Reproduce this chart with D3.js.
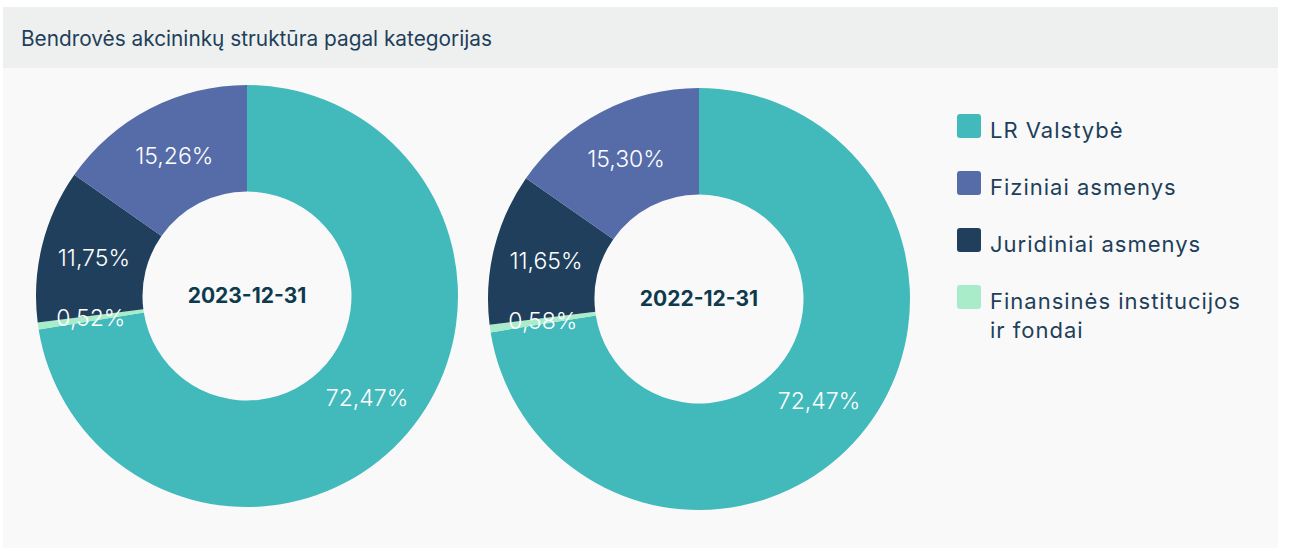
<!DOCTYPE html>
<html lang="lt">
  <head>
    <meta charset="utf-8" />
    <title>Bendrovės akcininkų struktūra</title>
    <script src="https://d3js.org/d3.v7.min.js"></script>
    <style type="text/css">
      body { margin: 0; background: #fff; font-family: Inter, "Noto Sans", sans-serif; }
    </style>
  </head>
  <body>
    <script type="text/javascript">
      // data
      const categories = ['LR Valstybė', 'Finansinės institucijos ir fondai', 'Juridiniai asmenys', 'Fiziniai asmenys'];
      const values2023 = [72.47, 0.52, 11.75, 15.26];
      const values2022 = [72.47, 0.58, 11.65, 15.30];
      const dates = ['2023-12-31', '2022-12-31'];
      const legendOrder = ['LR Valstybė', 'Fiziniai asmenys', 'Juridiniai asmenys', 'Finansinės institucijos ir fondai'];
      const legendLines = [['LR Valstybė'], ['Fiziniai asmenys'], ['Juridiniai asmenys'], ['Finansinės institucijos', 'ir fondai']];

      const w = 1289;
      const h = 551;

      const colour = d3
        .scaleOrdinal()
        .domain(categories)
        .range(['#42b9bb', '#a8ecca', '#1f3f5c', '#566ca8']);

      const svg = d3
        .select('body')
        .append('svg')
        .attr('width', w)
        .attr('height', h);

      // header + panel background
      svg.append('rect').attr('x', 3).attr('y', 7).attr('width', 1275).attr('height', 61).attr('fill', '#eef0ef');
      svg.append('rect').attr('x', 3).attr('y', 68).attr('width', 1275).attr('height', 480).attr('fill', '#f9f9f9');

      svg
        .append('text')
        .attr('x', 21)
        .attr('y', 46)
        .attr('fill', '#1e3f5a')
        .style('font-size', '20.8px')
        .text('Bendrovės akcininkų struktūra pagal kategorijas');

      const outerR = 211;
      const innerR = 104.5;
      const arc = d3.arc().innerRadius(innerR).outerRadius(outerR);
      const pie = d3.pie().sort(null).value(d => d.value);

      const donuts = [
        { date: dates[0], values: values2023, cx: 247, cy: 296 },
        { date: dates[1], values: values2022, cx: 699, cy: 299 },
      ];

      const fmt = v => v.toFixed(2).replace('.', ',') + '%';

      donuts.forEach(dn => {
        const data = categories.map((c, i) => ({ cat: c, value: dn.values[i] }));
        const g = svg.append('g').attr('transform', `translate(${dn.cx},${dn.cy})`);

        g.selectAll('path')
          .data(pie(data))
          .enter()
          .append('path')
          .attr('d', arc)
          .attr('fill', d => colour(d.data.cat));

        g.selectAll('text.lbl')
          .data(pie(data))
          .enter()
          .append('text')
          .attr('class', 'lbl')
          .attr('transform', d => `translate(${arc.centroid(d)})`)
          .attr('dy', '0.35em')
          .attr('text-anchor', 'middle')
          .attr('fill', '#ffffff')
          .style('font-size', '23px')
          .style('font-weight', 300)
          .text(d => fmt(d.data.value));

        g.append('text')
          .attr('dy', '0.35em')
          .attr('text-anchor', 'middle')
          .attr('fill', '#0f3a4e')
          .style('font-size', '21px')
          .style('font-weight', 700)
          .text(dn.date);
      });

      // legend
      const legend = svg
        .selectAll('g.legend')
        .data(legendOrder)
        .enter()
        .append('g')
        .attr('class', 'legend')
        .attr('transform', (d, i) => `translate(957,${114 + i * 57})`);

      legend
        .append('rect')
        .attr('width', 24)
        .attr('height', 24)
        .attr('rx', 3)
        .attr('fill', d => colour(d));

      legend
        .append('text')
        .attr('x', 33)
        .attr('y', 24)
        .attr('fill', '#1e3f5a')
        .style('font-size', '22px')
        .style('letter-spacing', '1px')
        .selectAll('tspan')
        .data((d, i) => legendLines[i])
        .enter()
        .append('tspan')
        .attr('x', 33)
        .attr('dy', (d, i) => (i === 0 ? 0 : 29))
        .text(d => d);
    </script>
  </body>
</html>
